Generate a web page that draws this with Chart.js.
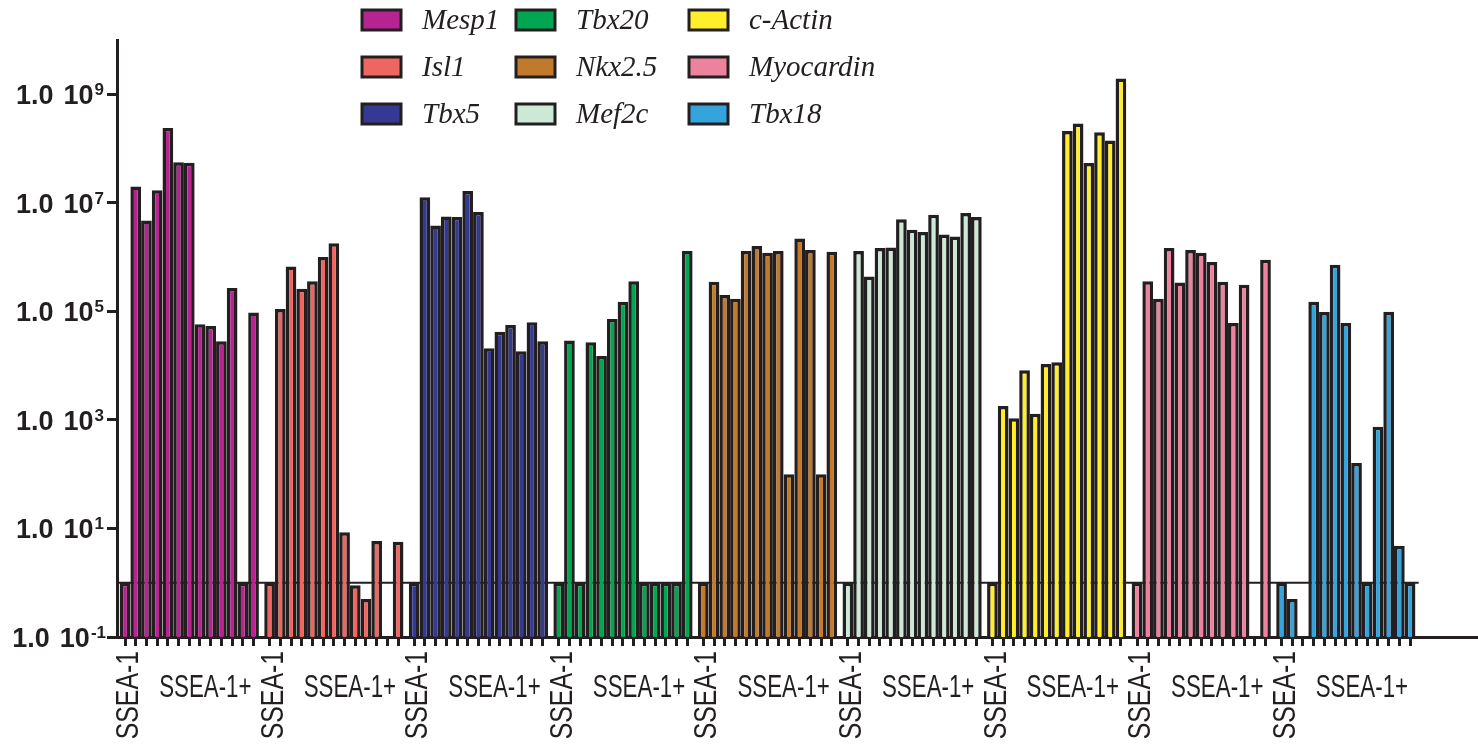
<!DOCTYPE html>
<html>
<head>
<meta charset="utf-8">
<script src="https://cdn.jsdelivr.net/npm/chart.js"></script>
<style>
html,body{margin:0;padding:0;background:#fff;overflow:hidden}
canvas{display:block}
</style>
</head>
<body>
<canvas id="c" width="1478" height="749"></canvas>
<script>
// ---------------- data ----------------
const genes = ['Mesp1', 'Isl1', 'Tbx5', 'Tbx20', 'Nkx2.5', 'Mef2c', 'c-Actin', 'Myocardin', 'Tbx18'];
const negLabel = 'SSEA-1';
const posLabel = 'SSEA-1+';
// 13 samples per gene: sample 0 is SSEA-1 negative, samples 1..12 are SSEA-1+
const samples = [negLabel].concat(Array.from({length: 12}, (_, i) => posLabel + ' #' + (i + 1)));

const mesp1     = [1, 2.0e7, 4.7e6, 1.7e7, 2.4e8, 5.6e7, 5.5e7, 5.8e4, 5.4e4, 2.8e4, 2.7e5, 1, 9.5e4];
const isl1      = [1, 1.1e5, 6.7e5, 2.6e5, 3.6e5, 1.0e6, 1.8e6, 8.5, 0.9, 0.5, 5.9, null, 5.7];
const tbx5      = [1, 1.27e7, 3.8e6, 5.6e6, 5.5e6, 1.65e7, 6.8e6, 2.1e4, 4.2e4, 5.6e4, 1.85e4, 6.3e4, 2.8e4];
const tbx20     = [1, 2.9e4, 1, 2.7e4, 1.5e4, 7.2e4, 1.5e5, 3.6e5, 1, 1, 1, 1, 1.3e6];
const nkx25     = [1, 3.5e5, 2.0e5, 1.7e5, 1.3e6, 1.6e6, 1.2e6, 1.3e6, 100, 2.2e6, 1.35e6, 100, 1.26e6];
const mef2c     = [1, 1.3e6, 4.4e5, 1.47e6, 1.5e6, 5.0e6, 3.2e6, 2.9e6, 6.0e6, 2.6e6, 2.4e6, 6.5e6, 5.5e6];
const cActin    = [1, 1.8e3, 1.07e3, 8.2e3, 1.3e3, 1.07e4, 1.15e4, 2.1e8, 2.9e8, 5.4e7, 2.0e8, 1.4e8, 1.95e9];
const myocardin = [1, 3.6e5, 1.7e5, 1.47e6, 3.4e5, 1.35e6, 1.2e6, 8.1e5, 3.5e5, 6.1e4, 3.1e5, null, 8.9e5];
const tbx18     = [1, 0.5, null, 1.5e5, 9.7e4, 7.2e5, 6.1e4, 160, 1, 750, 9.8e4, 4.8, 1];
const seriesValues = [mesp1, isl1, tbx5, tbx20, nkx25, mef2c, cActin, myocardin, tbx18];

const detectionLimit = 1;
const yTickValues = [0.1, 10, 1e3, 1e5, 1e7, 1e9];
const yTickMantissa = '1.0';
const yTickBase = '10';
const yTickExponents = ['-1', '1', '3', '5', '7', '9'];

// ---------------- styles ----------------
const DARK = '#231f20';
const colors = ['#b52490', '#ed6660', '#343a94', '#00a651', '#c17a2b', '#cce8d7', '#ffee2a', '#ec829e', '#35a3dc'];
const SANS = '"Liberation Sans", Arial, sans-serif';

// ---------------- slot layout (category grid) ----------------
const LEAD = 1, STEP = 2, GAP = 3, TRAIL = 12;
const PER_GROUP = samples.length;
const PERIOD = (PER_GROUP - 1) * STEP + GAP;
const slotIndex = (g, j) => LEAD + g * PERIOD + j * STEP;
const N = slotIndex(genes.length - 1, PER_GROUP - 1) + TRAIL + 1;

const labels = Array(N).fill('');
genes.forEach((gene, g) => samples.forEach((s, j) => { labels[slotIndex(g, j)] = gene + ' ' + s; }));

const datasets = genes.map((gene, g) => {
  const data = Array(N).fill(null);
  seriesValues[g].forEach((v, j) => { data[slotIndex(g, j)] = v; });
  return {
    label: gene, data,
    backgroundColor: colors[g], borderColor: DARK, borderWidth: 3.5,
    borderSkipped: 'start', grouped: false,
    categoryPercentage: 1, barPercentage: STEP
  };
});

// reference line at detection limit
const refLine = {
  id: 'refLine',
  beforeDatasetsDraw(chart) {
    const {ctx, chartArea, scales: {x, y}} = chart;
    const yy = y.getPixelForValue(detectionLimit);
    const xEnd = x.getPixelForValue(slotIndex(genes.length - 1, PER_GROUP - 1) + 1.6);
    ctx.save();
    ctx.strokeStyle = DARK; ctx.lineWidth = 2;
    ctx.beginPath(); ctx.moveTo(chartArea.left, yy); ctx.lineTo(xEnd, yy); ctx.stroke();
    ctx.restore();
  }
};

// y tick labels with superscript exponents
const yLabels = {
  id: 'yLabels',
  afterDraw(chart) {
    const {ctx, chartArea, scales: {y}} = chart;
    const right = chartArea.left - 13;
    ctx.save();
    ctx.fillStyle = DARK;
    ctx.textBaseline = 'alphabetic'; ctx.textAlign = 'left';
    yTickValues.forEach((v, i) => {
      const yy = y.getPixelForValue(v);
      ctx.font = 'bold 17px ' + SANS;
      const exp = yTickExponents[i];
      const ew = ctx.measureText(exp).width;
      const ex = right - (exp.length > 1 ? ew - 2 : ew);
      ctx.fillText(exp, ex, yy + 1);
      ctx.font = 'bold 27px ' + SANS;
      const bw = ctx.measureText(yTickBase).width;
      const bx = ex - 1 - bw;
      ctx.fillText(yTickBase, bx, yy + 10);
      const mw = ctx.measureText(yTickMantissa).width;
      ctx.fillText(yTickMantissa, bx - 10 - mw, yy + 10);
    });
    ctx.restore();
  }
};

// x-axis group labels
const groupLabels = {
  id: 'groupLabels',
  afterDraw(chart) {
    const {ctx, scales: {x}, chartArea} = chart;
    const fs = 31, capH = fs * 0.716;
    ctx.save();
    ctx.fillStyle = DARK;
    ctx.font = fs + 'px ' + SANS;
    genes.forEach((gene, g) => {
      const x0 = x.getPixelForValue(slotIndex(g, 0));
      ctx.save();
      ctx.translate(x0 + 2 + capH / 2, chartArea.bottom + 14);
      ctx.rotate(-Math.PI / 2);
      ctx.scale(0.8, 1);
      ctx.textAlign = 'right'; ctx.textBaseline = 'alphabetic';
      ctx.fillText(negLabel, 0, 0);
      ctx.restore();
      const xc = (x.getPixelForValue(slotIndex(g, 7)) + x.getPixelForValue(slotIndex(g, 8))) / 2;
      ctx.save();
      ctx.translate(xc, chartArea.bottom + 60);
      ctx.scale(0.72, 1);
      ctx.textAlign = 'center'; ctx.textBaseline = 'alphabetic';
      ctx.fillText(posLabel, 0, 0);
      ctx.restore();
    });
    ctx.restore();
  }
};

// 3x3 legend
const legendGrid = {
  id: 'legendGrid',
  afterDraw(chart) {
    const {ctx} = chart;
    const colX = [362, 516, 689], rowY = [20, 67, 114];
    const boxW = 39, boxH = 20, gapT = 21;
    ctx.save();
    ctx.font = 'italic 29px "Liberation Serif", "Times New Roman", serif';
    ctx.textBaseline = 'middle'; ctx.textAlign = 'left';
    chart.data.datasets.forEach((ds, i) => {
      const cx = colX[Math.floor(i / 3)], cy = rowY[i % 3];
      ctx.fillStyle = ds.backgroundColor;
      ctx.fillRect(cx, cy - boxH / 2, boxW, boxH);
      ctx.strokeStyle = DARK; ctx.lineWidth = 3;
      ctx.strokeRect(cx, cy - boxH / 2, boxW, boxH);
      ctx.fillStyle = DARK;
      ctx.fillText(ds.label, cx + boxW + gapT, cy + 1);
    });
    ctx.restore();
  }
};

new Chart(document.getElementById('c'), {
  type: 'bar',
  data: {labels, datasets},
  plugins: [refLine, yLabels, groupLabels, legendGrid],
  options: {
    responsive: false, animation: false, devicePixelRatio: 1,
    layout: {padding: {top: 40, right: 1, bottom: 0, left: 0}},
    plugins: {legend: {display: false}, tooltip: {enabled: false}},
    scales: {
      x: {
        type: 'category', offset: true,
        grid: {display: true, drawOnChartArea: false, drawTicks: true, offset: false,
               tickLength: 9, tickWidth: 3,
               tickColor: (c) => labels[c.index] ? DARK : 'rgba(0,0,0,0)'},
        border: {display: true, color: DARK, width: 3},
        ticks: {display: false, autoSkip: false},
        afterFit: (s) => { s.height = 112; }
      },
      y: {
        type: 'logarithmic', min: 0.1, max: 1e10,
        afterBuildTicks: (s) => { s.ticks = yTickValues.map(v => ({value: v})); },
        grid: {display: true, drawOnChartArea: false, drawTicks: true, tickLength: 10, tickWidth: 3, tickColor: DARK},
        border: {display: true, color: DARK, width: 3},
        ticks: {display: false, callback: (v, i) => yTickMantissa + ' ' + yTickBase + '^' + yTickExponents[i]},
        afterFit: (s) => { s.width = 117; }
      }
    }
  }
});
</script>
</body>
</html>
